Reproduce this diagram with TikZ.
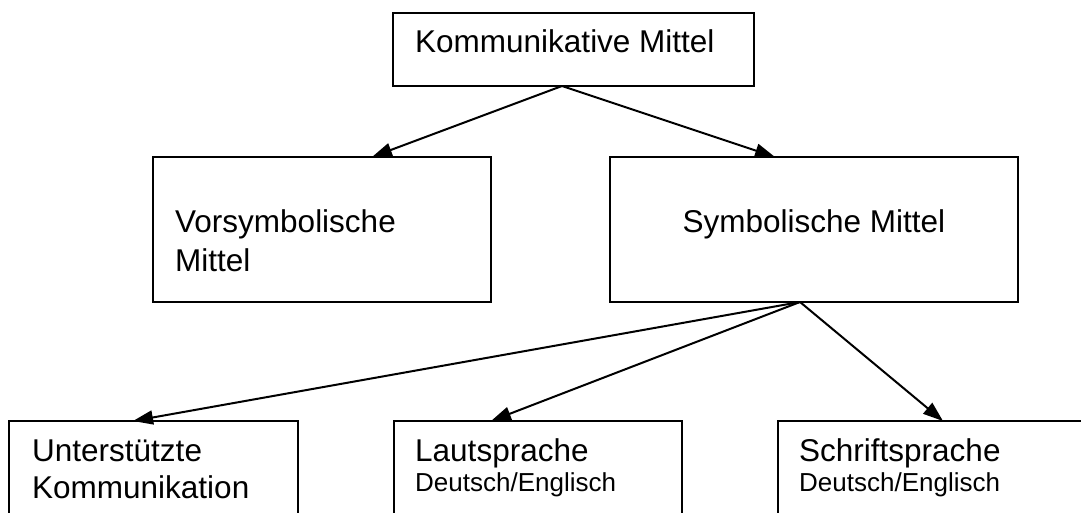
\documentclass[tikz,border=0pt]{standalone}
\usepackage{fontspec}
\setmainfont{Liberation Sans}
\usetikzlibrary{arrows.meta}
\begin{document}
\begin{tikzpicture}[x=1pt,y=-1pt,
  box/.style={draw=black, line width=2pt, inner sep=0pt, fill=white},
  big/.style={font=\fontsize{31.5}{39}\selectfont, inner sep=0pt, anchor=base west},
  small/.style={font=\fontsize{26}{30}\selectfont, inner sep=0pt, anchor=base west},
  conn/.style={line width=2pt, -{Triangle[length=20pt,width=14pt]}}]
\useasboundingbox (0,0) rectangle (1081,513);
\clip (0,0) rectangle (1081,513);
% boxes
\node[box, minimum width=361pt, minimum height=73pt] (top) at (573.5,49.5) {};
\node[box, minimum width=338pt, minimum height=145pt] (vor) at (322,229.5) {};
\node[box, minimum width=408pt, minimum height=145pt] (sym) at (814,229.5) {};
\node[box, minimum width=289pt, minimum height=119pt] (unt) at (153.5,480.5) {};
\node[box, minimum width=288pt, minimum height=119pt] (laut) at (538,480.5) {};
\node[box, minimum width=322pt, minimum height=119pt] (schr) at (939,480.5) {};
% texts
\node[big] (ttop) at (415,53) {Kommunikative Mittel};
\node[big] (tvor1) at (175,232) {Vorsymbolische};
\node[big] (tvor2) at (175,271) {Mittel};
\node[big, anchor=base] (tsym) at (814,232) {Symbolische Mittel};
\node[big] (tunt1) at (32,461) {Unterstützte};
\node[big] (tunt2) at (32,498) {Kommunikation};
\node[big] (tlaut1) at (415,461) {Lautsprache};
\node[small] (tlaut2) at (415,491) {Deutsch/Englisch};
\node[big] (tschr1) at (799,461) {Schriftsprache};
\node[small] (tschr2) at (799,491) {Deutsch/Englisch};
% connector anchors
\coordinate (topout) at (562,86);
\coordinate (vorin) at (372,157);
\coordinate (symin) at (775,157);
\coordinate (symout) at (800,302);
\coordinate (untin) at (133,421);
\coordinate (lautin) at (491,421);
\coordinate (schrin) at (943,421);
% connectors
\draw[conn] (topout) -- (vorin);
\draw[conn] (topout) -- (symin);
\draw[conn] (symout) -- (untin);
\draw[conn] (symout) -- (lautin);
\draw[conn] (symout) -- (schrin);
\end{tikzpicture}
\end{document}
